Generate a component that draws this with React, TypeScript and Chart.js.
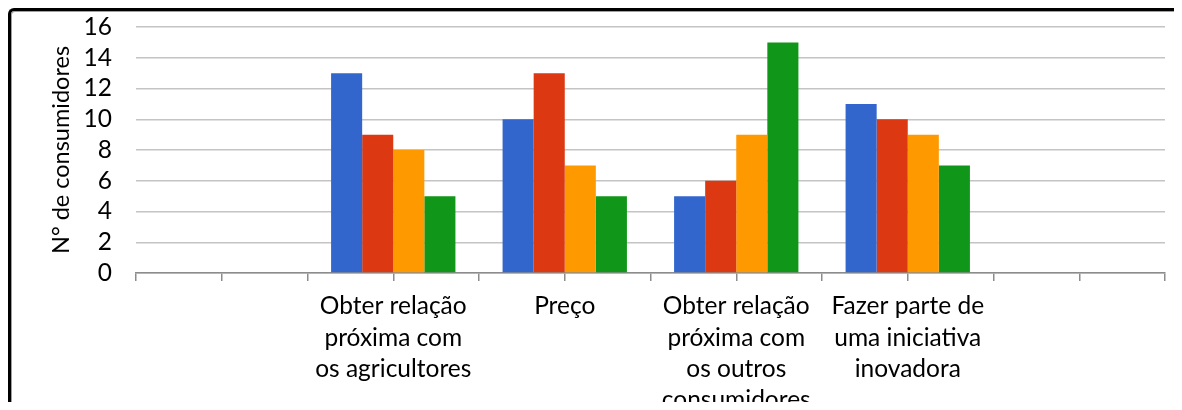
import React, { useEffect, useRef } from "react";
import { Chart, registerables } from "chart.js";

Chart.register(...registerables);

// Categories (first and last slots are empty in the original chart)
const categories: (string | string[])[] = [
  "",
  ["Obter relação", "próxima com", "os agricultores"],
  ["Preço"],
  ["Obter relação", "próxima com", "os outros", "consumidores"],
  ["Fazer parte de", "uma iniciativa", "inovadora"],
  "",
];

// Half-category slots, used only to draw the tick marks of the axis
const tickSlots: string[] = ["", "", "", "", "", "", "", "", "", "", "", ""];

const seriesNames = ["Série 1", "Série 2", "Série 3", "Série 4"];
const series1 = [null, 13, 10, 5, 11, null];
const series2 = [null, 9, 13, 6, 10, null];
const series3 = [null, 8, 7, 9, 9, null];
const series4 = [null, 5, 5, 15, 7, null];
const seriesColors = ["#3366CC", "#DC3912", "#FF9900", "#109618"];

const yMin = 0;
const yMax = 16;
const yStep = 2;
const yTitle = "N° de consumidores";

const FONT = "Lato";

export default function App() {
  const ref = useRef<HTMLCanvasElement>(null);

  useEffect(() => {
    document.documentElement.style.overflow = "hidden";
    if (!ref.current) return;
    const allSeries = [series1, series2, series3, series4];
    const chart = new Chart(ref.current, {
      type: "bar",
      data: {
        labels: categories,
        datasets: allSeries.map((s, i) => ({
          label: seriesNames[i],
          data: s,
          backgroundColor: seriesColors[i],
          borderWidth: 0,
          barPercentage: 1,
          categoryPercentage: 0.725,
        })),
      },
      options: {
        animation: false,
        responsive: true,
        maintainAspectRatio: false,
        layout: { padding: { top: 16, right: 9, bottom: 0, left: 0 } },
        plugins: {
          legend: { display: false },
          tooltip: { enabled: false },
        },
        scales: {
          x: {
            type: "category",
            position: "bottom",
            weight: 1,
            offset: true,
            grid: { display: false, drawTicks: false },
            border: { display: false },
            ticks: {
              autoSkip: false,
              maxRotation: 0,
              minRotation: 0,
              padding: 10,
              color: "#000",
              font: { family: FONT, size: 24.5, lineHeight: 1.27 },
            },
            afterFit: (scale: any) => {
              scale.height = 160;
              scale.paddingLeft = 0;
              scale.paddingRight = 0;
            },
          },
          x2: {
            type: "category",
            position: "bottom",
            weight: 0,
            labels: tickSlots,
            offset: true,
            grid: {
              offset: true,
              drawOnChartArea: false,
              drawTicks: true,
              tickLength: 8,
              color: "#8c8c8c",
              lineWidth: 1.5,
            },
            border: { display: true, color: "#8c8c8c", width: 1.5 },
            ticks: { display: false },
          },
          y: {
            min: yMin,
            max: yMax,
            ticks: {
              stepSize: yStep,
              autoSkip: false,
              padding: 24,
              color: "#000",
              font: { family: FONT, size: 24.5 },
            },
            grid: { color: "#c4c4c4", lineWidth: 1.5, drawTicks: false },
            border: { display: false },
            title: {
              display: true,
              text: yTitle,
              color: "#000",
              font: { family: FONT, size: 23.5 },
              padding: { top: 36, bottom: 0 },
            },
            afterFit: (scale: any) => {
              scale.width = 125;
              scale.paddingTop = 0;
              scale.paddingBottom = 0;
            },
          },
        },
      },
    });
    return () => chart.destroy();
  }, []);

  return (
    <div
      style={{
        borderTop: "3px solid #000",
        borderLeft: "3px solid #000",
        borderTopLeftRadius: 6,
        boxShadow: "inset 1px 1px 0 #a0a0a0",
        marginRight: -8,
        height: 391,
        overflow: "hidden",
      }}
    >
      <div style={{ position: "relative", width: 1163, height: 430 }}>
        <canvas ref={ref} />
      </div>
    </div>
  );
}
